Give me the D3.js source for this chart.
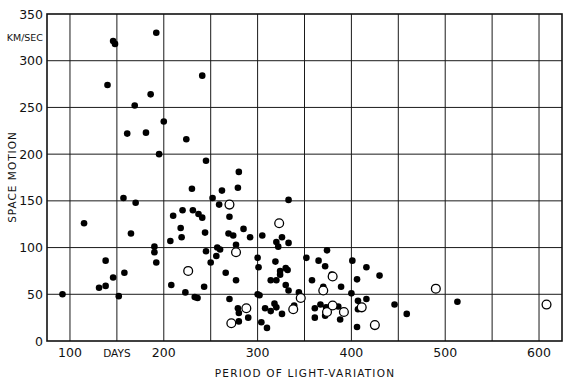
<!DOCTYPE html>
<html><head><meta charset="utf-8">
<script src="https://cdn.jsdelivr.net/npm/d3@7"></script>
<style>
body{margin:0;background:#fff;}
text{font-family:"DejaVu Sans",sans-serif;fill:#111;}
</style></head>
<body><svg id="c" width="570" height="381"></svg>
<script>
// Filled circles: [period (days), space motion (km/sec)]
const filledPeriod = [92,115,131,138,138,146,152,157,158,165,170,190,190,192,207,208,210,218,219,220,223,230,231,233,236,237,241,243,244,245,250,252,256,257,260,259,262,266,270,270,269,274,277,277,279,279,280,280,285,290,292,300,301,300,302,304,305,308,310,314,314,318,319,320,320,320,322,324,326,324,326,330,330,332,333,333,333,344,339,352,358,365,374,372,379,370,389,361,361,367,373,372,377,386,388,401,416,430,406,400,407,416,407,406,446,459,513,146,148,192,140,241,186,169,200,161,181,224,195,245,280];
const filledMotion = [50,126,57,59,86,68,48,153,73,115,148,101,95,84,107,60,134,121,111,140,52,163,140,47,46,136,132,58,116,96,84,153,91,100,98,146,161,73,133,45,115,113,103,65,164,35,30,21,120,25,111,89,79,50,49,20,113,35,14,65,32,40,85,106,65,36,101,71,111,75,29,60,78,76,105,54,151,52,38,89,65,86,97,80,71,58,58,35,25,39,36,27,36,37,23,86,79,70,66,51,43,45,34,15,39,29,42,321,318,330,274,284,264,252,235,222,223,216,200,193,181];
// Open circles
const openPeriod = [226,270,272,277,288,323,346,338,380,370,374,380,392,411,425,490,608];
const openMotion = [75,146,19,95,35,126,46,34,69,54,31,38,31,36,17,56,39];

const xGrid = [100,150,200,250,300,350,400,450,500,550,600];
const yGrid = [50,100,150,200,250,300];
const xTickVals = [100,150,200,300,400,500,600];
const xTickLabels = ["100","DAYS","200","300","400","500","600"];
const yTickVals = [0,50,100,150,200,250,300,350];
const yUnitLabel = "KM/SEC";
const xTitle = "PERIOD OF LIGHT-VARIATION";
const yTitle = "SPACE MOTION";

const svg = d3.select("#c");
const L=47, R=562, T=14, B=341;
const x = d3.scaleLinear().domain([75.5,624.5]).range([L,R]);
const y = d3.scaleLinear().domain([0,350]).range([B,T]);

const g = svg.append("g");
g.selectAll("line.vg").data(xGrid).join("line")
  .attr("x1",d=>x(d)).attr("x2",d=>x(d)).attr("y1",T).attr("y2",B)
  .attr("stroke","#1a1a1a").attr("stroke-width",1);
g.selectAll("line.hg").data(yGrid).join("line")
  .attr("x1",L).attr("x2",R).attr("y1",d=>y(d)).attr("y2",d=>y(d))
  .attr("stroke","#1a1a1a").attr("stroke-width",1);
g.append("rect").attr("x",L).attr("y",T).attr("width",R-L).attr("height",B-T)
  .attr("fill","none").attr("stroke","#111").attr("stroke-width",1.6);

// y tick labels
svg.selectAll("text.yt").data(yTickVals).join("text")
  .attr("x",43).attr("y",d=>y(d)).attr("dy","0.36em")
  .attr("text-anchor","end").attr("font-size",12.5).text(d=>d);
svg.append("text").attr("x",43).attr("y",y(325)).attr("dy","0.36em")
  .attr("text-anchor","end").attr("font-size",9.5).text(yUnitLabel);
// x tick labels
svg.selectAll("text.xt").data(xTickVals).join("text")
  .attr("x",d=>x(d)).attr("y",357)
  .attr("text-anchor","middle").attr("font-size",(d,i)=>xTickLabels[i]==="DAYS"?10.5:12.5)
  .text((d,i)=>xTickLabels[i]);
// titles
svg.append("text").attr("x",305).attr("y",377).attr("text-anchor","middle")
  .attr("font-size",10.5).attr("letter-spacing",1.2).text(xTitle);
svg.append("text").attr("transform","translate(16,177) rotate(-90)")
  .attr("text-anchor","middle").attr("font-size",10.5).attr("letter-spacing",1)
  .text(yTitle);

// points
const filled = filledPeriod.map((p,i)=>({p, m:filledMotion[i]}));
const open = openPeriod.map((p,i)=>({p, m:openMotion[i]}));
svg.selectAll("circle.f").data(filled).join("circle")
  .attr("cx",d=>x(d.p)).attr("cy",d=>y(d.m)).attr("r",3.3).attr("fill","#000");
svg.selectAll("circle.o").data(open).join("circle")
  .attr("cx",d=>x(d.p)).attr("cy",d=>y(d.m)).attr("r",4.4)
  .attr("fill","#fff").attr("stroke","#000").attr("stroke-width",1.3);
</script></body></html>
